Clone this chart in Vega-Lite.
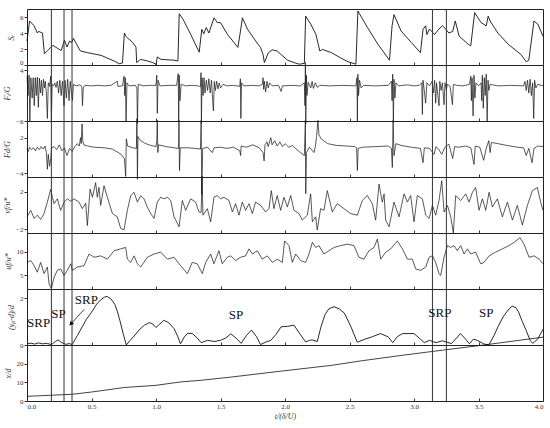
{
  "$schema": "https://vega.github.io/schema/vega-lite/v6.json",
  "padding": {"left": 3, "top": 8, "right": 5, "bottom": 2},
  "spacing": 0,
  "bounds": "flush",
  "config": {
    "view": {"stroke": "#222", "strokeWidth": 1},
    "concat": {"spacing": 0},
    "axis": {"labelFont": "Liberation Serif", "titleFont": "Liberation Serif", "labelFontSize": 7, "titleFontSize": 8, "titleFontStyle": "italic", "titleFontWeight": "normal", "grid": false, "domain": false, "tickColor": "#333", "labelColor": "#333", "titleColor": "#333", "tickSize": 3, "labelPadding": 1, "titlePadding": 4},
    "line": {"color": "#111", "strokeWidth": 0.8},
    "rule": {"color": "#333", "strokeWidth": 1}
  },
  "datasets": {
    "vlines": [{"x": 0.189}, {"x": 0.287}, {"x": 0.349}, {"x": 3.143}, {"x": 3.251}],
    "sr": [{"x":0,"y":3.0},{"x":0.02,"y":5.5},{"x":0.055,"y":4.9},{"x":0.08,"y":4.0},{"x":0.09,"y":4.2},{"x":0.12,"y":4.0},{"x":0.135,"y":1.4},{"x":0.16,"y":1.8},{"x":0.2,"y":2.46},{"x":0.265,"y":1.8},{"x":0.29,"y":3.1},{"x":0.31,"y":2.25},{"x":0.33,"y":3.0},{"x":0.345,"y":2.8},{"x":0.36,"y":3.33},{"x":0.405,"y":2.0},{"x":0.415,"y":1.75},{"x":0.47,"y":1.54},{"x":0.575,"y":1.2},{"x":0.675,"y":0.5},{"x":0.715,"y":0.16},{"x":0.74,"y":0.25},{"x":0.755,"y":4.0},{"x":0.765,"y":3.6},{"x":0.82,"y":2.8},{"x":0.845,"y":2.2},{"x":0.85,"y":0.3},{"x":0.88,"y":0.7},{"x":0.935,"y":0.5},{"x":0.975,"y":0.3},{"x":1.0,"y":0.08},{"x":1.01,"y":1.0},{"x":1.04,"y":0.7},{"x":1.14,"y":0.6},{"x":1.17,"y":0.5},{"x":1.18,"y":6.4},{"x":1.21,"y":5.7},{"x":1.27,"y":3.8},{"x":1.335,"y":1.6},{"x":1.355,"y":4.45},{"x":1.37,"y":3.9},{"x":1.39,"y":4.67},{"x":1.41,"y":4.0},{"x":1.45,"y":5.9},{"x":1.475,"y":5.3},{"x":1.5,"y":5.3},{"x":1.555,"y":3.8},{"x":1.635,"y":2.2},{"x":1.655,"y":4.25},{"x":1.67,"y":5.9},{"x":1.71,"y":4.45},{"x":1.79,"y":2.6},{"x":1.81,"y":2.2},{"x":1.83,"y":1.3},{"x":1.84,"y":0.3},{"x":1.87,"y":1.5},{"x":1.9,"y":1.9},{"x":1.94,"y":1.75},{"x":1.97,"y":1.3},{"x":2.02,"y":0.6},{"x":2.07,"y":0.3},{"x":2.11,"y":0.1},{"x":2.15,"y":0.2},{"x":2.16,"y":6.1},{"x":2.2,"y":5.1},{"x":2.24,"y":3.8},{"x":2.27,"y":1.75},{"x":2.29,"y":1.95},{"x":2.36,"y":1.54},{"x":2.43,"y":0.9},{"x":2.49,"y":0.4},{"x":2.55,"y":0.1},{"x":2.565,"y":6.75},{"x":2.64,"y":4.67},{"x":2.72,"y":2.6},{"x":2.81,"y":0.6},{"x":2.83,"y":4.9},{"x":2.845,"y":6.3},{"x":2.9,"y":4.25},{"x":2.98,"y":2.8},{"x":3.05,"y":1.54},{"x":3.07,"y":4.45},{"x":3.09,"y":4.9},{"x":3.1,"y":3.8},{"x":3.12,"y":4.5},{"x":3.16,"y":3.8},{"x":3.19,"y":4.45},{"x":3.22,"y":4.9},{"x":3.24,"y":4.6},{"x":3.27,"y":4.0},{"x":3.3,"y":4.2},{"x":3.32,"y":5.5},{"x":3.35,"y":3.6},{"x":3.42,"y":2.6},{"x":3.44,"y":2.4},{"x":3.47,"y":6.55},{"x":3.52,"y":5.3},{"x":3.56,"y":4.9},{"x":3.575,"y":6.1},{"x":3.59,"y":5.5},{"x":3.65,"y":4.0},{"x":3.73,"y":2.6},{"x":3.83,"y":1.3},{"x":3.87,"y":0.4},{"x":3.89,"y":0.6},{"x":3.93,"y":5.5},{"x":3.96,"y":5.1},{"x":4.0,"y":3.6}],
    "fl": [{"x":0,"y":2.8},{"x":0.008,"y":-1},{"x":0.016,"y":3},{"x":0.022,"y":-6},{"x":0.03,"y":2.5},{"x":0.04,"y":-1.5},{"x":0.048,"y":2.5},{"x":0.056,"y":-3},{"x":0.064,"y":2.5},{"x":0.072,"y":-1},{"x":0.08,"y":2.6},{"x":0.088,"y":-3.3},{"x":0.096,"y":2.4},{"x":0.104,"y":-0.5},{"x":0.112,"y":2},{"x":0.12,"y":-1},{"x":0.128,"y":2.2},{"x":0.135,"y":0.5},{"x":0.142,"y":1.8},{"x":0.15,"y":-0.5},{"x":0.158,"y":-5.5},{"x":0.165,"y":1.5},{"x":0.175,"y":0.8},{"x":0.184,"y":2.8},{"x":0.189,"y":-6},{"x":0.195,"y":1.2},{"x":0.205,"y":0.9},{"x":0.215,"y":1.5},{"x":0.225,"y":0.6},{"x":0.235,"y":1.8},{"x":0.245,"y":-0.5},{"x":0.255,"y":2},{"x":0.265,"y":-1},{"x":0.275,"y":1.8},{"x":0.287,"y":-3},{"x":0.295,"y":2},{"x":0.305,"y":-1.5},{"x":0.315,"y":2.2},{"x":0.326,"y":-2},{"x":0.335,"y":1.8},{"x":0.345,"y":-0.5},{"x":0.352,"y":-2},{"x":0.36,"y":1.2},{"x":0.38,"y":0.9},{"x":0.41,"y":1.1},{"x":0.425,"y":0.8},{"x":0.43,"y":-3},{"x":0.436,"y":0.5},{"x":0.45,"y":1},{"x":0.5,"y":0.9},{"x":0.55,"y":1.0},{"x":0.6,"y":0.9},{"x":0.65,"y":1.0},{"x":0.7,"y":1.8},{"x":0.705,"y":0.8},{"x":0.74,"y":0.9},{"x":0.752,"y":2.8},{"x":0.758,"y":-1},{"x":0.762,"y":2.5},{"x":0.768,"y":-6},{"x":0.775,"y":1.5},{"x":0.79,"y":0.9},{"x":0.84,"y":1.0},{"x":0.852,"y":0.5},{"x":0.856,"y":-6.5},{"x":0.862,"y":1.2},{"x":0.9,"y":0.9},{"x":0.95,"y":1.0},{"x":1.0,"y":1.0},{"x":1.006,"y":3},{"x":1.01,"y":-4.5},{"x":1.016,"y":2},{"x":1.03,"y":0.9},{"x":1.1,"y":1.0},{"x":1.16,"y":1.0},{"x":1.172,"y":3.3},{"x":1.176,"y":-6},{"x":1.18,"y":3},{"x":1.186,"y":-2},{"x":1.195,"y":1.2},{"x":1.23,"y":0.9},{"x":1.28,"y":1.0},{"x":1.33,"y":0.9},{"x":1.345,"y":0.7},{"x":1.349,"y":3.5},{"x":1.352,"y":-6.5},{"x":1.357,"y":2.5},{"x":1.365,"y":-1},{"x":1.372,"y":2.5},{"x":1.38,"y":-0.5},{"x":1.39,"y":2},{"x":1.4,"y":0},{"x":1.41,"y":2.3},{"x":1.42,"y":-0.5},{"x":1.43,"y":2},{"x":1.445,"y":-4},{"x":1.452,"y":1.8},{"x":1.46,"y":0},{"x":1.47,"y":1.8},{"x":1.48,"y":0.3},{"x":1.49,"y":1.5},{"x":1.5,"y":0.5},{"x":1.52,"y":1.2},{"x":1.55,"y":0.9},{"x":1.6,"y":1.0},{"x":1.65,"y":0.8},{"x":1.654,"y":2.3},{"x":1.658,"y":-5.5},{"x":1.663,"y":1.5},{"x":1.68,"y":0.9},{"x":1.74,"y":1.0},{"x":1.8,"y":0.9},{"x":1.825,"y":1.2},{"x":1.83,"y":2.5},{"x":1.835,"y":0.2},{"x":1.84,"y":1.8},{"x":1.85,"y":-0.3},{"x":1.86,"y":1.8},{"x":1.87,"y":0.5},{"x":1.88,"y":1.5},{"x":1.9,"y":0.9},{"x":1.95,"y":1.0},{"x":1.97,"y":-0.2},{"x":1.98,"y":0.9},{"x":2.05,"y":1.0},{"x":2.12,"y":0.9},{"x":2.15,"y":1.5},{"x":2.155,"y":-3},{"x":2.158,"y":5.5},{"x":2.161,"y":-6.5},{"x":2.166,"y":3},{"x":2.17,"y":-1},{"x":2.18,"y":1.6},{"x":2.2,"y":0.5},{"x":2.21,"y":1.8},{"x":2.22,"y":0.4},{"x":2.235,"y":1.5},{"x":2.25,"y":0.6},{"x":2.27,"y":1},{"x":2.35,"y":0.9},{"x":2.45,"y":1.0},{"x":2.55,"y":0.9},{"x":2.558,"y":2.5},{"x":2.561,"y":-6},{"x":2.565,"y":3.2},{"x":2.57,"y":-1},{"x":2.578,"y":2},{"x":2.59,"y":0.5},{"x":2.61,"y":1},{"x":2.7,"y":0.9},{"x":2.8,"y":1.0},{"x":2.825,"y":1.8},{"x":2.83,"y":-2},{"x":2.835,"y":3.2},{"x":2.84,"y":-6.3},{"x":2.845,"y":2.2},{"x":2.852,"y":-1.5},{"x":2.86,"y":1.5},{"x":2.88,"y":0.9},{"x":2.95,"y":1.1},{"x":3.0,"y":0.9},{"x":3.04,"y":1.0},{"x":3.06,"y":1.5},{"x":3.065,"y":-4.7},{"x":3.07,"y":2},{"x":3.08,"y":0},{"x":3.09,"y":-2.5},{"x":3.1,"y":1.5},{"x":3.12,"y":0.9},{"x":3.14,"y":1.8},{"x":3.15,"y":-0.5},{"x":3.16,"y":2},{"x":3.168,"y":-2.5},{"x":3.175,"y":1.5},{"x":3.185,"y":-1},{"x":3.194,"y":-3},{"x":3.2,"y":1.8},{"x":3.21,"y":0},{"x":3.22,"y":1.5},{"x":3.233,"y":-2.8},{"x":3.24,"y":1.5},{"x":3.25,"y":0.2},{"x":3.26,"y":1.2},{"x":3.28,"y":0.8},{"x":3.298,"y":-2.8},{"x":3.305,"y":1.2},{"x":3.33,"y":1.0},{"x":3.38,"y":0.9},{"x":3.43,"y":1.2},{"x":3.44,"y":2.8},{"x":3.445,"y":-2},{"x":3.45,"y":2.5},{"x":3.458,"y":-5},{"x":3.465,"y":3},{"x":3.472,"y":-1.5},{"x":3.48,"y":1.5},{"x":3.5,"y":0.9},{"x":3.52,"y":1.5},{"x":3.525,"y":-2},{"x":3.53,"y":3},{"x":3.537,"y":-3.5},{"x":3.545,"y":2.5},{"x":3.552,"y":-1},{"x":3.56,"y":3.2},{"x":3.567,"y":-6},{"x":3.574,"y":2},{"x":3.58,"y":0},{"x":3.59,"y":1.2},{"x":3.65,"y":0.9},{"x":3.75,"y":1.0},{"x":3.85,"y":0.9},{"x":3.86,"y":1.8},{"x":3.87,"y":0},{"x":3.88,"y":2},{"x":3.89,"y":-0.5},{"x":3.9,"y":2.2},{"x":3.91,"y":-1},{"x":3.92,"y":1.5},{"x":3.928,"y":-5.5},{"x":3.935,"y":2},{"x":3.945,"y":0.5},{"x":3.96,"y":1.2},{"x":4.0,"y":0.9}],
    "fd": [{"x":0,"y":0.2},{"x":0.01,"y":-0.3},{"x":0.02,"y":0.4},{"x":0.035,"y":0},{"x":0.05,"y":0.3},{"x":0.065,"y":-0.2},{"x":0.08,"y":0.4},{"x":0.095,"y":0},{"x":0.11,"y":0.5},{"x":0.125,"y":0.1},{"x":0.14,"y":0.6},{"x":0.15,"y":-0.5},{"x":0.158,"y":-3.3},{"x":0.165,"y":-0.8},{"x":0.175,"y":-2.8},{"x":0.184,"y":-1.5},{"x":0.19,"y":0.3},{"x":0.21,"y":0.5},{"x":0.23,"y":0},{"x":0.25,"y":0.8},{"x":0.27,"y":-0.2},{"x":0.29,"y":0.3},{"x":0.31,"y":-1.0},{"x":0.33,"y":0.2},{"x":0.35,"y":-0.3},{"x":0.37,"y":0.5},{"x":0.39,"y":1.0},{"x":0.405,"y":0.6},{"x":0.415,"y":2},{"x":0.42,"y":1},{"x":0.427,"y":4.3},{"x":0.432,"y":1.5},{"x":0.44,"y":0.8},{"x":0.47,"y":0.6},{"x":0.52,"y":0.4},{"x":0.6,"y":0.3},{"x":0.66,"y":0.1},{"x":0.7,"y":-0.4},{"x":0.73,"y":-0.8},{"x":0.755,"y":-1.5},{"x":0.765,"y":-4.5},{"x":0.77,"y":1.8},{"x":0.78,"y":0.6},{"x":0.82,"y":0.3},{"x":0.848,"y":0.2},{"x":0.852,"y":5.2},{"x":0.856,"y":-5},{"x":0.86,"y":2.2},{"x":0.88,"y":1.5},{"x":0.92,"y":1.0},{"x":0.96,"y":0.7},{"x":1.0,"y":0.5},{"x":1.006,"y":1.5},{"x":1.01,"y":4.9},{"x":1.014,"y":-0.5},{"x":1.02,"y":0.8},{"x":1.08,"y":0.5},{"x":1.14,"y":0.3},{"x":1.175,"y":0.2},{"x":1.178,"y":4.9},{"x":1.182,"y":-3.5},{"x":1.188,"y":0.3},{"x":1.25,"y":0.3},{"x":1.3,"y":0.2},{"x":1.345,"y":0.1},{"x":1.35,"y":4.9},{"x":1.355,"y":-7.5},{"x":1.362,"y":0.2},{"x":1.4,"y":0.4},{"x":1.437,"y":-0.5},{"x":1.45,"y":0.3},{"x":1.5,"y":0.4},{"x":1.55,"y":0.2},{"x":1.6,"y":0.4},{"x":1.65,"y":-0.2},{"x":1.656,"y":-1.0},{"x":1.66,"y":0.6},{"x":1.7,"y":0.4},{"x":1.75,"y":0.8},{"x":1.8,"y":0.3},{"x":1.83,"y":-0.5},{"x":1.838,"y":-1.9},{"x":1.845,"y":0.8},{"x":1.86,"y":1.3},{"x":1.87,"y":0.5},{"x":1.89,"y":2.0},{"x":1.9,"y":0.8},{"x":1.92,"y":1.5},{"x":1.94,"y":0.6},{"x":1.96,"y":1.3},{"x":1.98,"y":0.5},{"x":2.0,"y":1.0},{"x":2.03,"y":0.4},{"x":2.06,"y":0.7},{"x":2.08,"y":0.2},{"x":2.12,"y":-0.5},{"x":2.15,"y":-1.0},{"x":2.158,"y":4.9},{"x":2.161,"y":-7.4},{"x":2.166,"y":-0.5},{"x":2.19,"y":0.4},{"x":2.225,"y":-0.5},{"x":2.235,"y":0.5},{"x":2.245,"y":2.2},{"x":2.255,"y":4.9},{"x":2.263,"y":2.5},{"x":2.28,"y":1.8},{"x":2.33,"y":1.0},{"x":2.4,"y":0.7},{"x":2.48,"y":0.6},{"x":2.54,"y":0.5},{"x":2.555,"y":0.3},{"x":2.561,"y":-3.5},{"x":2.567,"y":0.2},{"x":2.6,"y":0.4},{"x":2.7,"y":0.5},{"x":2.8,"y":0.6},{"x":2.825,"y":0.2},{"x":2.832,"y":-3.0},{"x":2.838,"y":4.9},{"x":2.845,"y":-1.0},{"x":2.86,"y":1.0},{"x":2.9,"y":0.7},{"x":2.98,"y":0.4},{"x":3.05,"y":0.2},{"x":3.07,"y":-2.2},{"x":3.08,"y":0.3},{"x":3.12,"y":0.2},{"x":3.155,"y":-0.8},{"x":3.17,"y":0.5},{"x":3.19,"y":0.1},{"x":3.215,"y":-0.8},{"x":3.24,"y":0.4},{"x":3.27,"y":0.9},{"x":3.3,"y":-1.5},{"x":3.315,"y":0.5},{"x":3.35,"y":0.4},{"x":3.4,"y":0.6},{"x":3.44,"y":0.3},{"x":3.465,"y":-2.5},{"x":3.475,"y":0.6},{"x":3.51,"y":0.4},{"x":3.54,"y":-1.8},{"x":3.56,"y":0.2},{"x":3.58,"y":1.5},{"x":3.59,"y":-0.5},{"x":3.6,"y":1.2},{"x":3.65,"y":1.0},{"x":3.72,"y":0.7},{"x":3.8,"y":0.4},{"x":3.85,"y":0.3},{"x":3.87,"y":-1.0},{"x":3.89,"y":0.2},{"x":3.915,"y":-2.2},{"x":3.93,"y":0.2},{"x":3.96,"y":0.6},{"x":4.0,"y":0.5}],
    "vf": [{"x":0,"y":-0.67},{"x":0.029,"y":0.03},{"x":0.055,"y":-0.84},{"x":0.08,"y":-0.49},{"x":0.106,"y":-0.95},{"x":0.132,"y":-0.32},{"x":0.158,"y":0.91},{"x":0.184,"y":2.3},{"x":0.197,"y":1.43},{"x":0.21,"y":0.74},{"x":0.235,"y":1.26},{"x":0.261,"y":0.03},{"x":0.287,"y":0.91},{"x":0.313,"y":1.26},{"x":0.339,"y":1.0},{"x":0.364,"y":1.26},{"x":0.403,"y":0.91},{"x":0.429,"y":0.21},{"x":0.455,"y":0.8},{"x":0.468,"y":-1.6},{"x":0.489,"y":2.3},{"x":0.507,"y":1.43},{"x":0.532,"y":3.0},{"x":0.545,"y":1.43},{"x":0.558,"y":2.48},{"x":0.571,"y":0.56},{"x":0.597,"y":2.66},{"x":0.623,"y":1.43},{"x":0.662,"y":-0.32},{"x":0.7,"y":-0.67},{"x":0.726,"y":-1.9},{"x":0.752,"y":-2.07},{"x":0.778,"y":0.03},{"x":0.804,"y":1.61},{"x":0.83,"y":1.96},{"x":0.856,"y":0.91},{"x":0.881,"y":1.61},{"x":0.907,"y":1.26},{"x":0.933,"y":0.38},{"x":0.959,"y":-0.32},{"x":0.985,"y":-0.84},{"x":1.01,"y":0.91},{"x":1.036,"y":1.43},{"x":1.062,"y":1.26},{"x":1.088,"y":1.43},{"x":1.114,"y":1.08},{"x":1.14,"y":-0.67},{"x":1.179,"y":-1.73},{"x":1.204,"y":1.08},{"x":1.23,"y":0.03},{"x":1.269,"y":1.26},{"x":1.307,"y":0.91},{"x":1.333,"y":-0.15},{"x":1.35,"y":-0.2},{"x":1.357,"y":3.7},{"x":1.364,"y":-0.49},{"x":1.398,"y":0.21},{"x":1.424,"y":-1.2},{"x":1.449,"y":1.43},{"x":1.475,"y":1.61},{"x":1.501,"y":1.26},{"x":1.527,"y":1.43},{"x":1.566,"y":1.08},{"x":1.592,"y":-0.15},{"x":1.617,"y":0.74},{"x":1.643,"y":-0.49},{"x":1.669,"y":0.91},{"x":1.695,"y":0.03},{"x":1.721,"y":0.74},{"x":1.747,"y":-0.32},{"x":1.772,"y":0.91},{"x":1.811,"y":0.56},{"x":1.85,"y":-0.15},{"x":1.876,"y":0.21},{"x":1.894,"y":2.14},{"x":1.914,"y":0.21},{"x":1.94,"y":1.61},{"x":1.966,"y":0.03},{"x":1.992,"y":1.43},{"x":2.018,"y":0.38},{"x":2.044,"y":1.61},{"x":2.07,"y":0.03},{"x":2.108,"y":-0.32},{"x":2.134,"y":-1.02},{"x":2.173,"y":-0.49},{"x":2.199,"y":1.79},{"x":2.212,"y":-1.2},{"x":2.238,"y":-0.67},{"x":2.25,"y":-2.07},{"x":2.276,"y":0.21},{"x":2.302,"y":0.03},{"x":2.328,"y":2.14},{"x":2.367,"y":-0.15},{"x":2.405,"y":0.74},{"x":2.457,"y":0.21},{"x":2.509,"y":-0.32},{"x":2.561,"y":-0.49},{"x":2.599,"y":1.08},{"x":2.638,"y":1.61},{"x":2.677,"y":0.74},{"x":2.703,"y":-1.02},{"x":2.729,"y":2.84},{"x":2.754,"y":0.91},{"x":2.768,"y":1.79},{"x":2.78,"y":-1.02},{"x":2.807,"y":-1.73},{"x":2.845,"y":0.91},{"x":2.884,"y":-0.67},{"x":2.923,"y":1.79},{"x":2.949,"y":0.91},{"x":2.974,"y":1.61},{"x":3.0,"y":-1.2},{"x":3.026,"y":1.61},{"x":3.065,"y":1.26},{"x":3.091,"y":-0.49},{"x":3.117,"y":-0.84},{"x":3.143,"y":0.56},{"x":3.168,"y":-0.49},{"x":3.194,"y":1.08},{"x":3.215,"y":3.2},{"x":3.233,"y":-0.15},{"x":3.259,"y":0.56},{"x":3.285,"y":-0.67},{"x":3.305,"y":-2.42},{"x":3.323,"y":1.61},{"x":3.362,"y":1.08},{"x":3.401,"y":1.79},{"x":3.427,"y":0.91},{"x":3.453,"y":1.96},{"x":3.478,"y":2.48},{"x":3.504,"y":0.03},{"x":3.53,"y":1.26},{"x":3.556,"y":0.03},{"x":3.582,"y":1.96},{"x":3.608,"y":0.38},{"x":3.646,"y":1.26},{"x":3.685,"y":-0.67},{"x":3.724,"y":0.91},{"x":3.763,"y":-1.02},{"x":3.801,"y":0.56},{"x":3.84,"y":-1.55},{"x":3.879,"y":0.56},{"x":3.918,"y":2.14},{"x":3.956,"y":2.48},{"x":3.982,"y":0.91},{"x":4.0,"y":0.03}],
    "uf": [{"x":0,"y":7.7},{"x":0.029,"y":8.1},{"x":0.055,"y":7.0},{"x":0.08,"y":5.6},{"x":0.106,"y":7.7},{"x":0.132,"y":5.3},{"x":0.158,"y":6.7},{"x":0.171,"y":3.1},{"x":0.189,"y":2.1},{"x":0.21,"y":4.5},{"x":0.235,"y":6.0},{"x":0.261,"y":6.3},{"x":0.287,"y":4.9},{"x":0.313,"y":6.0},{"x":0.339,"y":7.4},{"x":0.352,"y":6.0},{"x":0.39,"y":6.7},{"x":0.442,"y":7.0},{"x":0.481,"y":9.5},{"x":0.52,"y":8.8},{"x":0.571,"y":9.1},{"x":0.623,"y":8.4},{"x":0.675,"y":10.2},{"x":0.726,"y":10.6},{"x":0.765,"y":10.9},{"x":0.778,"y":8.4},{"x":0.804,"y":7.7},{"x":0.83,"y":9.1},{"x":0.856,"y":7.4},{"x":0.881,"y":6.7},{"x":0.933,"y":8.8},{"x":0.985,"y":9.5},{"x":1.036,"y":9.9},{"x":1.088,"y":8.4},{"x":1.14,"y":8.8},{"x":1.191,"y":7.0},{"x":1.243,"y":5.3},{"x":1.281,"y":7.7},{"x":1.32,"y":7.4},{"x":1.359,"y":5.3},{"x":1.385,"y":7.7},{"x":1.424,"y":9.5},{"x":1.449,"y":7.4},{"x":1.488,"y":10.2},{"x":1.514,"y":7.4},{"x":1.553,"y":8.8},{"x":1.579,"y":9.1},{"x":1.617,"y":8.1},{"x":1.656,"y":8.8},{"x":1.695,"y":9.1},{"x":1.721,"y":10.6},{"x":1.747,"y":9.5},{"x":1.785,"y":10.2},{"x":1.824,"y":8.4},{"x":1.863,"y":9.1},{"x":1.902,"y":7.7},{"x":1.94,"y":8.4},{"x":1.979,"y":7.7},{"x":1.997,"y":12.3},{"x":2.031,"y":11.3},{"x":2.057,"y":7.7},{"x":2.083,"y":9.5},{"x":2.121,"y":8.1},{"x":2.16,"y":7.7},{"x":2.186,"y":9.5},{"x":2.212,"y":12.0},{"x":2.238,"y":10.9},{"x":2.263,"y":11.3},{"x":2.302,"y":9.5},{"x":2.341,"y":10.2},{"x":2.38,"y":10.9},{"x":2.431,"y":11.3},{"x":2.483,"y":11.6},{"x":2.535,"y":11.3},{"x":2.573,"y":8.8},{"x":2.612,"y":8.4},{"x":2.651,"y":10.2},{"x":2.69,"y":10.9},{"x":2.716,"y":12.7},{"x":2.742,"y":8.4},{"x":2.781,"y":9.9},{"x":2.82,"y":10.6},{"x":2.871,"y":12.3},{"x":2.91,"y":10.6},{"x":2.949,"y":8.4},{"x":2.987,"y":8.4},{"x":3.013,"y":6.3},{"x":3.052,"y":6.0},{"x":3.091,"y":6.7},{"x":3.117,"y":8.8},{"x":3.143,"y":9.1},{"x":3.168,"y":7.7},{"x":3.194,"y":5.3},{"x":3.207,"y":4.9},{"x":3.233,"y":8.8},{"x":3.259,"y":11.3},{"x":3.285,"y":10.9},{"x":3.31,"y":11.3},{"x":3.336,"y":10.2},{"x":3.362,"y":11.3},{"x":3.388,"y":9.5},{"x":3.414,"y":10.6},{"x":3.44,"y":9.5},{"x":3.478,"y":9.9},{"x":3.517,"y":7.4},{"x":3.543,"y":7.7},{"x":3.582,"y":9.1},{"x":3.633,"y":9.9},{"x":3.685,"y":10.6},{"x":3.737,"y":11.3},{"x":3.776,"y":12.0},{"x":3.822,"y":13.0},{"x":3.853,"y":11.6},{"x":3.892,"y":8.8},{"x":3.931,"y":9.1},{"x":3.969,"y":8.4},{"x":4.0,"y":7.4}],
    "yp": [{"x":0,"y":0.05},{"x":0.03,"y":0.08},{"x":0.06,"y":0.04},{"x":0.09,"y":0.09},{"x":0.12,"y":0.05},{"x":0.15,"y":0.07},{"x":0.19,"y":0.02},{"x":0.22,"y":0.15},{"x":0.24,"y":0.22},{"x":0.27,"y":0.1},{"x":0.3,"y":0.03},{"x":0.33,"y":0.06},{"x":0.35,"y":0.02},{"x":0.39,"y":0.4},{"x":0.43,"y":0.8},{"x":0.46,"y":1.1},{"x":0.5,"y":1.4},{"x":0.54,"y":1.75},{"x":0.57,"y":1.93},{"x":0.6,"y":2.05},{"x":0.62,"y":2.08},{"x":0.65,"y":1.98},{"x":0.68,"y":1.75},{"x":0.7,"y":1.45},{"x":0.72,"y":1.05},{"x":0.745,"y":0.5},{"x":0.77,"y":0.0},{"x":0.8,"y":0.2},{"x":0.83,"y":0.38},{"x":0.87,"y":0.65},{"x":0.91,"y":0.85},{"x":0.95,"y":0.96},{"x":0.975,"y":0.9},{"x":1.0,"y":0.75},{"x":1.02,"y":0.85},{"x":1.06,"y":1.06},{"x":1.1,"y":0.95},{"x":1.14,"y":0.7},{"x":1.17,"y":0.35},{"x":1.19,"y":0.05},{"x":1.22,"y":0.35},{"x":1.245,"y":0.5},{"x":1.28,"y":0.5},{"x":1.32,"y":0.3},{"x":1.35,"y":0.1},{"x":1.4,"y":0.2},{"x":1.45,"y":0.15},{"x":1.5,"y":0.2},{"x":1.54,"y":0.3},{"x":1.58,"y":0.48},{"x":1.62,"y":0.3},{"x":1.66,"y":0.07},{"x":1.7,"y":0.4},{"x":1.74,"y":0.64},{"x":1.78,"y":0.35},{"x":1.81,"y":0.02},{"x":1.85,"y":0.12},{"x":1.89,"y":0.2},{"x":1.93,"y":0.45},{"x":1.97,"y":0.78},{"x":2.02,"y":0.8},{"x":2.07,"y":0.85},{"x":2.1,"y":0.6},{"x":2.16,"y":0.13},{"x":2.19,"y":0.2},{"x":2.21,"y":0.22},{"x":2.25,"y":0.15},{"x":2.28,"y":0.8},{"x":2.31,"y":1.3},{"x":2.34,"y":1.55},{"x":2.38,"y":1.64},{"x":2.42,"y":1.55},{"x":2.46,"y":1.37},{"x":2.51,"y":0.8},{"x":2.56,"y":0.12},{"x":2.62,"y":0.25},{"x":2.67,"y":0.34},{"x":2.74,"y":0.49},{"x":2.8,"y":0.35},{"x":2.835,"y":0.1},{"x":2.87,"y":0.35},{"x":2.91,"y":0.49},{"x":3.0,"y":0.49},{"x":3.05,"y":0.25},{"x":3.08,"y":0.1},{"x":3.12,"y":0.2},{"x":3.17,"y":0.1},{"x":3.22,"y":0.18},{"x":3.29,"y":0.06},{"x":3.33,"y":0.3},{"x":3.36,"y":0.49},{"x":3.4,"y":0.25},{"x":3.43,"y":0.05},{"x":3.46,"y":0.25},{"x":3.49,"y":0.2},{"x":3.54,"y":0.05},{"x":3.58,"y":0.0},{"x":3.62,"y":0.4},{"x":3.65,"y":0.77},{"x":3.69,"y":1.2},{"x":3.73,"y":1.5},{"x":3.76,"y":1.67},{"x":3.79,"y":1.6},{"x":3.81,"y":1.42},{"x":3.84,"y":1.0},{"x":3.87,"y":0.62},{"x":3.9,"y":0.2},{"x":3.92,"y":0.07},{"x":3.96,"y":0.26},{"x":4.0,"y":0.67}],
    "xd": [{"x":0,"y":2.5},{"x":0.35,"y":3.6},{"x":0.5,"y":4.8},{"x":0.75,"y":7.2},{"x":1.0,"y":8.4},{"x":1.19,"y":10.2},{"x":1.35,"y":11.1},{"x":1.58,"y":12.8},{"x":1.97,"y":16},{"x":2.36,"y":19.1},{"x":2.6,"y":21.6},{"x":2.9,"y":24.4},{"x":3.16,"y":26.7},{"x":3.52,"y":29.8},{"x":4.0,"y":34.2}],
    "labels": [{"x":0.09,"y":0.95,"t":"SRP"},{"x":0.245,"y":1.33,"t":"SP"},{"x":0.46,"y":1.93,"t":"SRP"},{"x":1.62,"y":1.28,"t":"SP"},{"x":3.2,"y":1.36,"t":"SRP"},{"x":3.56,"y":1.36,"t":"SP"}],
    "arrow": [{"x":0.444,"y":1.53},{"x":0.34,"y":0.9}],
    "arrowhead": [{"x":0.34,"y":0.9}]
  },
  "vconcat": [
    {
      "width": 516, "height": 56,
      "layer": [
        {"data": {"name": "sr"}, "mark": {"type": "line", "strokeWidth": 0.9}, "encoding": {
          "x": {"field": "x", "type": "quantitative", "scale": {"domain": [0, 4], "nice": false}, "axis": {"title": null, "labels": false, "values": [0,0.5,1,1.5,2,2.5,3,3.5,4], "tickSize": -3}},
          "y": {"field": "y", "type": "quantitative", "scale": {"domain": [0, 7], "nice": false}, "axis": {"title": "Sᵣ", "values": [0, 2, 4, 6], "labelFlush": true}}}},
        {"data": {"name": "vlines"}, "mark": {"type": "rule"}, "encoding": {"x": {"field": "x", "type": "quantitative"}}}
      ]
    },
    {
      "width": 516, "height": 56,
      "layer": [
        {"data": {"name": "fl"}, "mark": {"type": "line", "strokeWidth": 0.7}, "encoding": {
          "x": {"field": "x", "type": "quantitative", "scale": {"domain": [0, 4], "nice": false}, "axis": {"title": null, "labels": false, "values": [0,0.5,1,1.5,2,2.5,3,3.5,4], "tickSize": -3}},
          "y": {"field": "y", "type": "quantitative", "scale": {"domain": [-6, 5], "nice": false}, "axis": {"title": "Fₗ/G", "values": [-6, -4, -2, 0, 2, 4]}}}},
        {"mark": {"type": "rule", "strokeDash": [1.5, 1.5], "color": "#555"}, "encoding": {"y": {"datum": 0}}},
        {"data": {"name": "vlines"}, "mark": {"type": "rule"}, "encoding": {"x": {"field": "x", "type": "quantitative"}}}
      ]
    },
    {
      "width": 516, "height": 56,
      "layer": [
        {"data": {"name": "fd"}, "mark": {"type": "line", "strokeWidth": 0.7}, "encoding": {
          "x": {"field": "x", "type": "quantitative", "scale": {"domain": [0, 4], "nice": false}, "axis": {"title": null, "labels": false, "values": [0,0.5,1,1.5,2,2.5,3,3.5,4], "tickSize": -3}},
          "y": {"field": "y", "type": "quantitative", "scale": {"domain": [-4.6, 4.8], "nice": false}, "axis": {"title": "Fd/G", "values": [-4, -2, 0, 2]}}}},
        {"mark": {"type": "rule", "strokeDash": [1.5, 1.5], "color": "#555"}, "encoding": {"y": {"datum": 0}}},
        {"data": {"name": "vlines"}, "mark": {"type": "rule"}, "encoding": {"x": {"field": "x", "type": "quantitative"}}}
      ]
    },
    {
      "width": 516, "height": 56,
      "layer": [
        {"data": {"name": "vf"}, "mark": {"type": "line", "strokeWidth": 0.7}, "encoding": {
          "x": {"field": "x", "type": "quantitative", "scale": {"domain": [0, 4], "nice": false}, "axis": {"title": null, "labels": false, "values": [0,0.5,1,1.5,2,2.5,3,3.5,4], "tickSize": -3}},
          "y": {"field": "y", "type": "quantitative", "scale": {"domain": [-2.4, 3.6], "nice": false}, "axis": {"title": "vf/u*", "values": [-2, 0, 2]}}}},
        {"mark": {"type": "rule", "strokeDash": [1.5, 1.5], "color": "#555"}, "encoding": {"y": {"datum": 0}}},
        {"data": {"name": "vlines"}, "mark": {"type": "rule"}, "encoding": {"x": {"field": "x", "type": "quantitative"}}}
      ]
    },
    {
      "width": 516, "height": 56,
      "layer": [
        {"data": {"name": "uf"}, "mark": {"type": "line", "strokeWidth": 0.7}, "encoding": {
          "x": {"field": "x", "type": "quantitative", "scale": {"domain": [0, 4], "nice": false}, "axis": {"title": null, "labels": false, "values": [0,0.5,1,1.5,2,2.5,3,3.5,4], "tickSize": -3}},
          "y": {"field": "y", "type": "quantitative", "scale": {"domain": [2, 14], "nice": false}, "axis": {"title": "uf/u*", "values": [5, 10]}}}},
        {"mark": {"type": "rule", "strokeDash": [1.5, 1.5], "color": "#555"}, "encoding": {"y": {"datum": 8.7}}},
        {"data": {"name": "vlines"}, "mark": {"type": "rule"}, "encoding": {"x": {"field": "x", "type": "quantitative"}}}
      ]
    },
    {
      "width": 516, "height": 56,
      "layer": [
        {"data": {"name": "yp"}, "mark": {"type": "line", "strokeWidth": 0.9}, "encoding": {
          "x": {"field": "x", "type": "quantitative", "scale": {"domain": [0, 4], "nice": false}, "axis": {"title": null, "labels": false, "values": [0,0.5,1,1.5,2,2.5,3,3.5,4], "tickSize": -3}},
          "y": {"field": "y", "type": "quantitative", "scale": {"domain": [0, 2.4], "nice": false}, "axis": {"title": "(yₚ-d)/d", "values": [0, 1, 2]}}}},
        {"data": {"name": "vlines"}, "mark": {"type": "rule"}, "encoding": {"x": {"field": "x", "type": "quantitative"}}},
        {"data": {"name": "labels"}, "mark": {"type": "text", "font": "Liberation Serif", "fontSize": 13, "color": "#111"}, "encoding": {"x": {"field": "x", "type": "quantitative"}, "y": {"field": "y", "type": "quantitative"}, "text": {"field": "t"}}},
        {"data": {"name": "arrow"}, "mark": {"type": "line", "strokeWidth": 0.8, "color": "#111"}, "encoding": {"x": {"field": "x", "type": "quantitative"}, "y": {"field": "y", "type": "quantitative"}}},
        {"data": {"name": "arrowhead"}, "mark": {"type": "point", "shape": "triangle-up", "filled": true, "size": 25, "angle": 223, "color": "#111", "opacity": 1}, "encoding": {"x": {"field": "x", "type": "quantitative"}, "y": {"field": "y", "type": "quantitative"}}}
      ]
    },
    {
      "width": 516, "height": 56,
      "layer": [
        {"data": {"name": "xd"}, "mark": {"type": "line", "strokeWidth": 0.8}, "encoding": {
          "x": {"field": "x", "type": "quantitative", "scale": {"domain": [0, 4], "nice": false}, "axis": {"title": "t/(δ/U)", "values": [0,0.5,1,1.5,2,2.5,3,3.5,4], "format": ".1f", "tickSize": -3, "labelPadding": 4, "titlePadding": 3}},
          "y": {"field": "y", "type": "quantitative", "scale": {"domain": [0, 30], "nice": false}, "axis": {"title": "x/d", "values": [0, 10, 20]}}}},
        {"data": {"name": "vlines"}, "mark": {"type": "rule"}, "encoding": {"x": {"field": "x", "type": "quantitative"}}}
      ]
    }
  ]
}
